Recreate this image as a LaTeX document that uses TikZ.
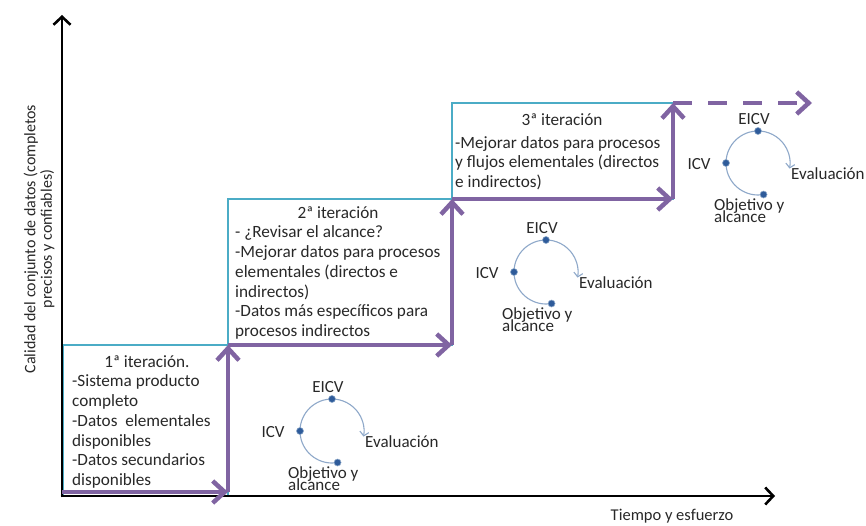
\documentclass[tikz,border=0pt]{standalone}
\usepackage{fontspec}
\setmainfont{Carlito}
\usetikzlibrary{arrows.meta}
\definecolor{purp}{HTML}{8064A2}
\definecolor{cyanb}{HTML}{4BACC6}
\definecolor{cycl}{HTML}{8EA8C9}
\definecolor{dotc}{HTML}{2E5B9A}
\definecolor{txt}{HTML}{282828}
\newcommand\tightlns{\lineskiplimit=-30pt\relax}
\tikzset{
  axisline/.style={black, line width=2.6pt, -{Straight Barb[length=8pt,width=17pt]}},
  flow/.style={purp, line width=4.5pt, -{Straight Barb[length=12pt,width=22pt]}},
  flowdash/.style={flow, dash pattern=on 19pt off 16pt},
  iterbox/.style={cyanb, line width=1.5pt},
  boxtext/.style={txt, font=\fontsize{17.2}{19.8}\selectfont, align=left, anchor=north west, inner sep=0pt},
  boxhead/.style={txt, font=\fontsize{17.2}{19.8}\selectfont, inner sep=0pt},
  lbl/.style={txt, font=\fontsize{17}{19}\selectfont, inner sep=0pt},
  objlbl/.style={txt, font=\fontsize{17}{12}\selectfont\tightlns, inner sep=0pt, anchor=north west, align=left},
  dotn/.style={circle, fill=dotc, draw=cycl, line width=0.6pt, inner sep=0pt, minimum size=7pt},
  lcacycle/.pic={
    \coordinate (-c) at (0,0);
    \draw[cycl, line width=1.1pt, -{Straight Barb[length=4pt,width=9pt]}]
      (280:32) arc[start angle=280, end angle=-10, radius=32];
    \node[dotn] (-d1) at (90:32) {};
    \node[dotn] (-d2) at (180:32) {};
    \node[dotn] (-d3) at (280:32) {};
    \node[lbl] (-eicv) at (-4,44) {EICV};
    \node[lbl] (-icv) at (-59,-1) {ICV};
    \node[lbl, anchor=west] (-eval) at (33,-11) {Evaluación};
    \node[objlbl] (-obj) at (-44,-35) {Objetivo y\\alcance};
  }
}
\begin{document}
\begin{tikzpicture}[x=1pt,y=1pt]
\useasboundingbox (0,0) rectangle (866,525);
% coordinates
\coordinate (ybot) at (62,27.7);
\coordinate (ytop) at (62,510);
\coordinate (O) at (60.7,29);
\coordinate (xend) at (775,29);
\coordinate (b1sw) at (63,29);  \coordinate (b1ne) at (228,180);
\coordinate (b2sw) at (228,180); \coordinate (b2ne) at (452,326);
\coordinate (b3sw) at (452,326); \coordinate (b3ne) at (673,422);
\coordinate (p0) at (62,33);
\coordinate (p1) at (228,33);
\coordinate (p2) at (228,180);
\coordinate (p3) at (452,180);
\coordinate (p4) at (452,326);
\coordinate (p5) at (673,326);
\coordinate (p6) at (673,422);
\coordinate (p7) at (812,422);
% boxes
\draw[iterbox] (b1sw) rectangle (b1ne);
\draw[iterbox] (b2sw) rectangle (b2ne);
\draw[iterbox] (b3sw) rectangle (b3ne);
% axes
\draw[axisline] (ybot) -- (ytop);
\draw[axisline] (O) -- (xend);
% purple flow
\draw[flow] (p0) -- (p1);
\draw[flow] (p1) -- (p2);
\draw[flow] (p2) -- (p3);
\draw[flow] (p3) -- (p4);
\draw[flow] (p4) -- (p5);
\draw[flow] (p5) -- (p6);
\draw[flowdash] (p6) -- (p7);
% axis labels
\node[txt, rotate=90, align=center, font=\fontsize{16}{16.5}\selectfont] (ylab) at (39,286)
  {Calidad del conjunto de datos (completos\\precisos y confiables)};
\node[txt, font=\fontsize{16.5}{18}\selectfont] (xlab) at (672,9) {Tiempo y esfuerzo};
% box texts
\node[boxhead] (h1) at (147,163) {1ª iteración.};
\node[boxtext] (t1) at (72,150.5) {-Sistema producto\\completo\\-Datos\ \ elementales\\disponibles\\-Datos secundarios\\disponibles};
\node[boxhead] (h2) at (338,312) {2ª iteración};
\node[boxtext] (t2) at (235,299.5) {- ¿Revisar el alcance?\\-Mejorar datos para procesos\\elementales (directos e\\indirectos)\\-Datos más específicos para\\procesos indirectos};
\node[boxhead] (h3) at (562,405) {3ª iteración};
\node[boxtext] (t3) at (455,389) {-Mejorar datos para procesos\\y flujos elementales (directos\\e indirectos)};
% cycles
\pic (c1) at (332,94) {lcacycle};
\pic (c2) at (546,253) {lcacycle};
\pic (c3) at (758,362) {lcacycle};
\end{tikzpicture}
\end{document}
